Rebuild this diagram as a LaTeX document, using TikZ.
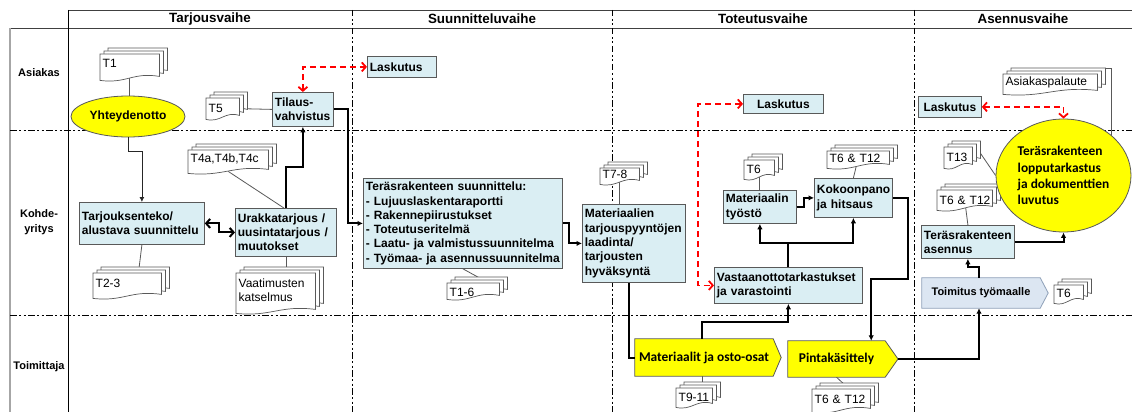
\documentclass[tikz,border=0pt]{standalone}
\usepackage{fontspec}
\setmainfont{Liberation Sans}
\newfontfamily\calibrifont{Carlito}
\usetikzlibrary{arrows.meta,calc,shapes.geometric}
\hyphenpenalty=10000
\exhyphenpenalty=10000

\pgfdeclarelayer{frame}
\pgfdeclarelayer{lines}
\pgfdeclarelayer{docs}
\pgfsetlayers{frame,lines,docs,main}

\definecolor{boxblue}{HTML}{DAEEF3}
\definecolor{boxline}{HTML}{595959}
\definecolor{docline}{HTML}{595959}
\definecolor{hiyellow}{HTML}{FFFF00}
\definecolor{steel}{HTML}{DCE6F2}
\definecolor{steelline}{HTML}{8EA0B8}
\definecolor{lanegray}{HTML}{A6A6A6}
\definecolor{alertred}{HTML}{FF0000}

% one sheet of a stacked document: node, x offset, y offset, extension below the node (numbers, pt)
\newcommand\docpage[4]{%
  \path[docpage] let \p1=(#1.north west), \p2=(#1.south east) in
    ({\x1+#2pt},{\y1+#3pt}) -- ({\x2+#2pt},{\y1+#3pt})
    -- ({\x2+#2pt},{\y2+#3pt-(#4pt)+4pt})
    .. controls ({0.45*\x1+0.55*\x2+#2pt},{\y2+#3pt-(#4pt)+8.5pt})
            and ({0.55*\x1+0.45*\x2+#2pt},{\y2+#3pt-(#4pt)-3.5pt})
    .. ({\x1+#2pt},{\y2+#3pt-(#4pt)}) -- cycle;}
\newcommand\docstack[2]{\docpage{#1}{8}{6}{#2}\docpage{#1}{4}{3}{#2}\docpage{#1}{0}{0}{#2}}
% arrow-shaped process: node, tip length, style
\newcommand\pentagon[3]{\path[#3] (#1.north west) -- (#1.north east) -- ([xshift=#2]#1.east) -- (#1.south east) -- (#1.south west) -- cycle;}

\tikzset{
  every node/.style={inner sep=0pt},
  hdr/.style={font=\bfseries\fontsize{13.4}{16}\selectfont},
  lane/.style={font=\bfseries\fontsize{11}{15}\selectfont, align=center},
  box/.style={draw=boxline, fill=boxblue, line width=0.8pt,
    font=\bfseries\fontsize{12}{14.3}\selectfont, align=left,
    inner xsep=2.5pt, inner ysep=0pt, anchor=north west},
  doc/.style={font=\fontsize{12}{14}\selectfont, align=left,
    inner xsep=2.5pt, inner ysep=0pt, anchor=north west},
  docpage/.style={draw=docline, fill=white, line width=0.7pt},
  blob/.style={ellipse, draw=boxline, fill=hiyellow, line width=0.8pt, inner sep=0pt},
  tag/.style={font=\calibrifont\bfseries\fontsize{13.4}{16}\selectfont, inner sep=0pt},
  link/.style={draw=docline, line width=0.8pt},
  thinflow/.style={line width=0.8pt, draw=black!85, -{Latex[length=5pt,width=5pt]}},
  flow/.style={line width=2pt, -{Latex[length=5.5pt,width=5.5pt]}},
  bare/.style={line width=2pt},
  swap/.style={line width=2pt, {Straight Barb[length=4pt,width=9pt]}-{Straight Barb[length=4pt,width=9pt]}},
  bill/.style={alertred, line width=1.8pt, dash pattern=on 6pt off 4pt,
    {Straight Barb[length=4pt,width=9pt]}-{Straight Barb[length=4pt,width=9pt]}},
  divider/.style={line width=1pt, dash pattern=on 6.5pt off 2.5pt on 2pt off 2.5pt on 2pt off 2.5pt},
}

\begin{document}
\begin{tikzpicture}[x=1pt,y=-1pt]
\useasboundingbox (0,0) rectangle (1132,412);

% ---------- swimlane frame ----------
\begin{pgfonlayer}{frame}
  \fill[white] (0,0) rectangle (1132,412);
  \draw[line width=0.8pt, black!75] (68,10) -- (1132,10);
  \draw[line width=0.8pt, black!75] (10,28) -- (1132,28);
  \draw[line width=1.6pt, lanegray] (10,28) -- (10,412);
  \draw[line width=0.8pt] (68,10) -- (68,412);
  \draw[divider] (10,130) -- (1132,130);
  \draw[divider] (10,315.5) -- (1132,315.5);
  \draw[divider] (352,10) -- (352,412);
  \draw[divider] (612,10) -- (612,412);
  \draw[divider] (914,10) -- (914,412);
\end{pgfonlayer}

\node[hdr] (h1) at (210,19) {Tarjousvaihe};
\node[hdr] (h2) at (482,19) {Suunnitteluvaihe};
\node[hdr] (h3) at (763,19) {Toteutusvaihe};
\node[hdr] (h4) at (1023,19) {Asennusvaihe};

\node[lane] (l1) at (39,73) {Asiakas};
\node[lane] (l2) at (39,222) {Kohde-\\yritys};
\node[lane] (l3) at (39,367) {Toimittaja};

% ---------- process boxes ----------
\node[box, text width=120pt, minimum height=42pt] (tarj) at (79,202) {Tarjouksenteko/\\alustava suunnittelu};
\node[box, text width=96pt, minimum height=48pt] (urak) at (235,208) {Urakkatarjous /\\uusintatarjous /\\muutokset};
\node[box, text width=56pt, minimum height=34pt] (tilaus) at (272,92) {Tilaus-\\vahvistus};
\node[box, text width=64pt, minimum height=21pt] (lask1) at (367,56) {Laskutus};
\node[box, text width=194pt, minimum height=90pt] (suun) at (363,178) {Teräsrakenteen suunnittelu:\\- Lujuuslaskentaraportti\\- Rakennepiirustukset\\- Toteutuseritelmä\\- Laatu-~ja~valmistussuunnitelma\\- Työmaa-~ja~asennussuunnitelma};
\node[box, text width=98pt, minimum height=78pt] (mater) at (582,204) {Materiaalien\\tarjouspyyntöjen\\laadinta/\\tarjousten\\hyväksyntä};
\node[box, align=center, text width=75pt, minimum height=19pt] (lask2) at (743,94) {Laskutus};
\node[box, text width=68pt, minimum height=33pt] (tyosto) at (723,190) {Materiaalin\\työstö};
\node[box, text width=73pt, minimum height=39pt] (kokoon) at (814,178) {Kokoonpano\\ja hitsaus};
\node[box, text width=143pt, minimum height=36pt] (vast) at (714,267) {Vastaanottotarkastukset\\ja varastointi};
\node[box, align=center, text width=58pt, minimum height=21pt] (lask3) at (918,96) {Laskutus};
\node[box, text width=88pt, minimum height=33pt] (asennus) at (921,225) {Teräsrakenteen\\asennus};

\node[blob, minimum width=114pt, minimum height=41pt, font=\bfseries\fontsize{12}{14}\selectfont] (yht) at (128,116.5) {Yhteydenotto};
\node[blob, minimum width=135pt, minimum height=113pt, align=left,
      font=\calibrifont\bfseries\fontsize{13.4}{16.3}\selectfont] (fin) at (1063.5,175.5)
      {Teräsrakenteen\\lopputarkastus\\ja dokumenttien\\luvutus};

\node[tag, minimum width=138pt, minimum height=37pt] (mat2) at (704,357.5) {Materiaalit ja osto-osat};
\node[tag, minimum width=97pt, minimum height=36pt] (pinta) at (836.5,359) {Pintakäsittely};
\node[font=\bfseries\fontsize{11}{13}\selectfont, minimum width=118pt, minimum height=30pt] (toim) at (981,293) {Toimitus työmaalle};

% ---------- documents ----------
\node[doc, text width=54pt, minimum height=18pt] (t1) at (100,54) {T1};
\node[doc, text width=63pt, minimum height=20pt] (t23) at (93,273) {T2-3};
\node[doc, text width=75pt, minimum height=18pt] (t4) at (188,150) {T4a,T4b,T4c};
\node[doc, text width=74pt, minimum height=34pt] (vaat) at (236,273) {Vaatimusten\\katselmus};
\node[doc, text width=28pt, minimum height=20pt] (t5) at (206,98) {T5};
\node[doc, text width=47pt, minimum height=19pt] (t16) at (447,283) {T1-6};
\node[doc, text width=34pt, minimum height=12pt] (t78) at (600,168) {T7-8};
\node[doc, text width=31pt, minimum height=18pt] (t911) at (676,388) {T9-11};
\node[doc, text width=25pt, minimum height=18pt] (t6a) at (744,160) {T6};
\node[doc, text width=57pt, minimum height=14pt] (t612a) at (827,151) {T6~\&~T12};
\node[doc, text width=53pt, minimum height=20pt] (t612p) at (812,389) {T6~\&~T12};
\node[doc, text width=89pt, minimum height=16pt] (asp) at (1003,74) {Asiakaspalaute};
\node[doc, text width=23pt, minimum height=20pt] (t13) at (944,147) {T13};
\node[doc, text width=50pt, minimum height=20pt] (t612c) at (937,190) {T6~\&~T12};
\node[doc, text width=24pt, minimum height=16pt] (t6b) at (1054,285) {T6};

\begin{pgfonlayer}{docs}
  \foreach \docname/\docext in {t1/8, t23/5, t4/5, vaat/6, t5/1, t16/-3, t78/4, t911/1,
                     t6a/1, t612a/3, t612p/3, asp/4, t13/1, t612c/0, t6b/2}
    {\docstack{\docname}{\docext}}
  \pentagon{mat2}{8pt}{draw=boxline, fill=hiyellow, line width=0.8pt}
  \pentagon{pinta}{12.8pt}{draw=boxline, fill=hiyellow, line width=0.8pt}
  \pentagon{toim}{8pt}{draw=steelline, fill=steel, line width=0.8pt}
\end{pgfonlayer}

% ---------- document links ----------
\begin{pgfonlayer}{lines}
  \draw[link] (t1.center) -- (t1.center |- yht.north);
  \draw[link] (tarj.south) -- ([xshift=10pt]t23.center);
  \draw[link] ([yshift=-3pt]t4.south) -- ([xshift=-2pt]urak.north);
  \draw[link] (urak.south) -- (urak.south |- vaat.center);
  \draw[link] (t5.center) -- (tilaus.west);
  \draw[link] (suun.south) -- ([shift={(10pt,3pt)}]t16.north);
  \draw[link] (t78.center) -- (t78.center |- mater.north);
  \draw[link] (t6a.center) -- (t6a.center |- tyosto.north);
  \draw[link] (t612a.center) -- (kokoon.north);
  \draw[link] ([xshift=-2pt]mat2.south) -- ([xshift=-2pt]mat2.south |- t911.center);
  \draw[link] (pinta.south) -- ([xshift=8pt]t612p.north);
  \draw[link] ([shift={(8pt,4pt)}]t13.east) -- (fin.west);
  \draw[link] (t612c.center) -- (asennus.north);
  \draw[link] ([shift={(8pt,6pt)}]asp.north east) -| (fin.north east);
\end{pgfonlayer}

% ---------- process flow ----------
\draw[thinflow] (yht.south) -- ++(0,14) -| (tarj.north);
\draw[swap] (tarj.east) -- ++(14,0) |- (urak.west);
\draw[flow] (urak.north) -- ++(0,-41) -| (tilaus.south);
\draw[flow] (tilaus.east) -- ++(14,0) |- (suun.west);
\draw[flow] (suun.east) -- ++(6,0) |- (mater.west);
\draw[bare] ([xshift=-4.5pt]mater.south) |- (mat2.west);
\draw[flow] ([xshift=-2pt]mat2.north) -- ++(0,-17) -| (vast.south);
\draw[flow] (vast.north) -- ++(0,-24) -| (tyosto.south);
\draw[flow] (vast.north) -- ++(0,-24) -| (kokoon.south);
\draw[flow] (tyosto.east) -- ++(7,0) |- (kokoon.west);
\draw[flow] (kokoon.east) -- ++(15,0) -- ++(0,81.5) -| ([xshift=-14pt]pinta.north east);
\draw[flow] ([xshift=12.8pt]pinta.east) -| ([xshift=-2pt]toim.south);
\draw[flow] ([xshift=-2pt]toim.north) -- ++(0,-11) -| (asennus.south);
\draw[flow] (asennus.east) -| (fin.south);

% ---------- invoicing ----------
\draw[bill] (tilaus.north) |- (lask1.west);
\draw[bill] (lask2.west) -- ++(-45,0) |- (vast.west);
\draw[bill] (lask3.east) -| (fin.north);
\end{tikzpicture}
\end{document}
